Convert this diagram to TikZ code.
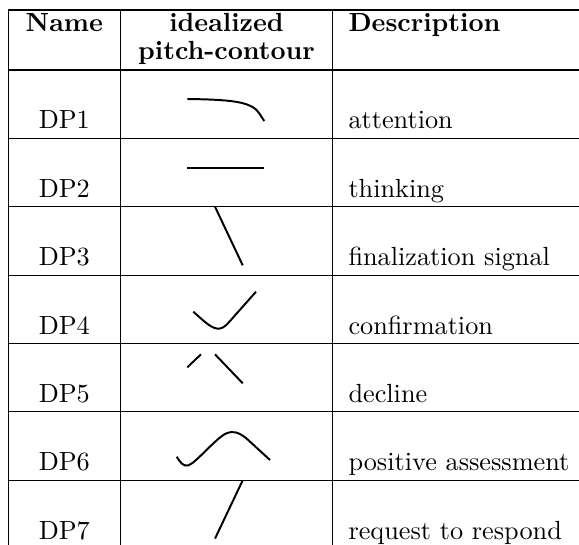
\documentclass[tikz,border=0pt]{standalone}
\begin{document}
\begin{tikzpicture}[x=0.381pt,y=-0.381pt,
  rule/.style={line width=0.4pt},
  contour/.style={line width=0.75pt},
  namelab/.style={inner sep=0pt, anchor=base},
  desclab/.style={inner sep=0pt, anchor=base west},
  headlab/.style={inner sep=0pt, anchor=base, font=\bfseries}]
\useasboundingbox (0,0) rectangle (579,544);
\clip (0,0) rectangle (579,544);
% rules
\foreach \yy in {10,70,138.3,206.7,275.1,343.5,411.9,480.3}
  \draw[rule] (8.3,\yy) -- (590,\yy);
\foreach \xx in {8.3,120.3,332.7}
  \draw[rule] (\xx,10) -- (\xx,550);
% header
\node[headlab] (hname) at (64.3,31) {Name};
\node[headlab] (hpc1) at (226.5,31) {idealized};
\node[headlab] (hpc2) at (226.5,59.5) {pitch-contour};
\node[headlab, anchor=base west] (hdesc) at (348,31) {Description};
% names
\node[namelab] (n1) at (64.3,128.8) {DP1};
\node[namelab] (n2) at (64.3,197.2) {DP2};
\node[namelab] (n3) at (64.3,265.6) {DP3};
\node[namelab] (n4) at (64.3,334.0) {DP4};
\node[namelab] (n5) at (64.3,402.4) {DP5};
\node[namelab] (n6) at (64.3,470.8) {DP6};
\node[namelab] (n7) at (64.3,539.2) {DP7};
% descriptions
\node[desclab] (d1) at (348,128.8) {attention};
\node[desclab] (d2) at (348,197.2) {thinking};
\node[desclab] (d3) at (348,265.6) {finalization signal};
\node[desclab] (d4) at (348,334.0) {confirmation};
\node[desclab] (d5) at (348,402.4) {decline};
\node[desclab] (d6) at (348,470.8) {positive assessment};
\node[desclab] (d7) at (348,539.2) {request to respond};
% contours
\draw[contour] (187.3,99) .. controls (215,99.3) and (232,100.5) .. (242,103)
  .. controls (250,105) and (256,108) .. (259,113) -- (264.3,121);
\draw[contour] (187.3,167.7) -- (264.3,167.7);
\draw[contour] (215,206.7) -- (242.7,265.3);
\draw[contour] (193.3,311.7) .. controls (203,320) and (212,330) .. (220,328.5)
  .. controls (224,327.5) and (226,325.5) .. (230,321) -- (256,291.7);
\draw[contour] (187.3,367.3) -- (201,354.3);
\draw[contour] (215,354.3) -- (242.7,383.3);
\draw[contour] (176.7,456.7) .. controls (180,462) and (183,466.5) .. (188,465.5)
  .. controls (196,463) and (216,438) .. (226,433.5)
  .. controls (233,430.5) and (238,432) .. (246,438) -- (270,460);
\draw[contour] (242.7,480.3) -- (215,538.6);
\end{tikzpicture}
\end{document}
